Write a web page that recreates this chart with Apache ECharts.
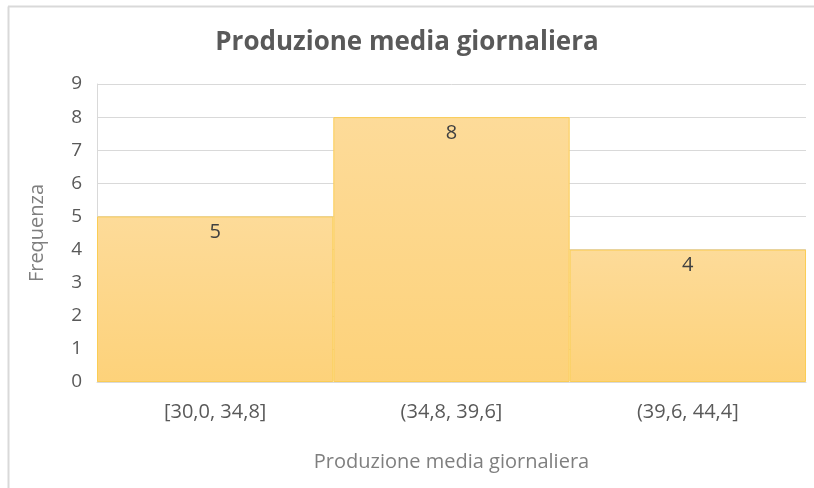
<!DOCTYPE html>
<html lang="it" style="height: 100%">
<head>
   <meta charset="utf-8">
   <style>
      html, body { margin: 0; padding: 0; width: 100%; height: 100%; overflow: hidden; background: #fff; }
   </style>
</head>
<body>
   <div id="container" style="height: 488px;width: 814px;"></div>
   <script type="text/javascript" src="https://cdn.jsdelivr.net/npm/echarts@6/dist/echarts.min.js"></script>
   <script type="text/javascript">
      // classi e frequenze
      let classi = ["[30,0, 34,8]", "(34,8, 39,6]", "(39,6, 44,4]"];
      let frequenze = [5, 8, 4];
      let yTicks = [0, 1, 2, 3, 4, 5, 6, 7, 8, 9];

      var dom = document.getElementById('container');
      var myChart = echarts.init(dom, null, { renderer: 'canvas' });
      var font = '"Open Sans", "Noto Sans", sans-serif';

      var option = {
         animation: false,
         backgroundColor: '#fff',
         title: {
            text: 'Produzione media giornaliera',
            left: 'center',
            top: 25,
            textStyle: { fontFamily: font, fontSize: 26, fontWeight: 'bold', color: '#595959' }
         },
         // bordo del riquadro
         graphic: [
            { type: 'line', shape: { x1: 8.5, y1: 6.5, x2: 8.5, y2: 488 }, style: { stroke: '#d9d9d9', lineWidth: 2 } },
            { type: 'line', shape: { x1: 8, y1: 6.5, x2: 814, y2: 6.5 }, style: { stroke: '#d9d9d9', lineWidth: 2 } }
         ],
         grid: { left: 97, right: 8, top: 84, bottom: 106 },
         xAxis: {
            type: 'category',
            data: classi,
            name: 'Produzione media giornaliera',
            nameLocation: 'middle',
            nameGap: 70,
            nameTextStyle: { fontFamily: font, fontSize: 20, color: '#7f7f7f' },
            axisLine: { lineStyle: { color: '#d9d9d9', width: 1 } },
            axisTick: { show: false },
            axisLabel: { fontFamily: font, fontSize: 20, color: '#595959', margin: 20 }
         },
         yAxis: {
            type: 'value',
            min: yTicks[0],
            max: yTicks[yTicks.length - 1],
            interval: 1,
            name: 'Frequenza',
            nameLocation: 'middle',
            nameGap: 50,
            nameTextStyle: { fontFamily: font, fontSize: 20, color: '#7f7f7f' },
            axisLine: { show: true, lineStyle: { color: '#d9d9d9' } },
            axisTick: { show: false },
            splitLine: { lineStyle: { color: '#d9d9d9', width: 1 } },
            axisLabel: { fontFamily: font, fontSize: 19, color: '#595959', margin: 15 }
         },
         series: [{
            type: 'bar',
            data: frequenze,
            barCategoryGap: '0%',
            itemStyle: {
               color: new echarts.graphic.LinearGradient(0, 0, 0, 1, [
                  { offset: 0, color: '#fddb99' },
                  { offset: 1, color: '#fdd27a' }
               ]),
               borderColor: '#fbcd55',
               borderWidth: 1
            },
            label: {
               show: true,
               position: 'insideTop',
               distance: 6,
               fontFamily: font,
               fontSize: 20,
               color: '#404040'
            }
         }]
      };

      myChart.setOption(option);
   </script>
</body>
</html>
